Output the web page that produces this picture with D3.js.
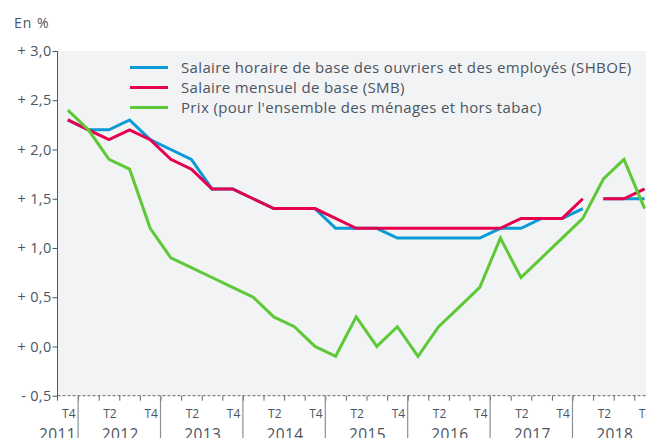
<!DOCTYPE html>
<html>
<head>
<meta charset="utf-8">
<script src="https://cdn.jsdelivr.net/npm/d3@7"></script>
<style>
  body { margin: 0; background: #fff; }
  svg { display: block; font-family: "Open Sans", sans-serif; }
</style>
</head>
<body>
<div></div>
<script>
const quarters = [
    "2011-T4",
    "2012-T1", "2012-T2", "2012-T3", "2012-T4",
    "2013-T1", "2013-T2", "2013-T3", "2013-T4",
    "2014-T1", "2014-T2", "2014-T3", "2014-T4",
    "2015-T1", "2015-T2", "2015-T3", "2015-T4",
    "2016-T1", "2016-T2", "2016-T3", "2016-T4",
    "2017-T1", "2017-T2", "2017-T3", "2017-T4",
    "2018-T1", "2018-T2", "2018-T3", "2018-T4"
];
const years = ["2011", "2012", "2013", "2014", "2015", "2016", "2017", "2018"];
const shboe = [2.3, 2.2, 2.2, 2.3, 2.1, 2.0, 1.9, 1.6, 1.6, 1.5, 1.4, 1.4, 1.4, 1.2, 1.2, 1.2, 1.1, 1.1, 1.1, 1.1, 1.1, 1.2, 1.2, 1.3, 1.3, 1.4, 1.5, 1.5, 1.5];
const smb = [2.3, 2.2, 2.1, 2.2, 2.1, 1.9, 1.8, 1.6, 1.6, 1.5, 1.4, 1.4, 1.4, 1.3, 1.2, 1.2, 1.2, 1.2, 1.2, 1.2, 1.2, 1.2, 1.3, 1.3, 1.3, 1.5, 1.5, 1.5, 1.6];
const prix = [2.4, 2.2, 1.9, 1.8, 1.2, 0.9, 0.8, 0.7, 0.6, 0.5, 0.3, 0.2, 0.0, -0.1, 0.3, 0.0, 0.2, -0.1, 0.2, 0.4, 0.6, 1.1, 0.7, 0.9, 1.1, 1.3, 1.7, 1.9, 1.4];
// wage series restart after a change of base
const wageBreak = "2018-T2";
const yTicks = [-0.5, 0, 0.5, 1, 1.5, 2, 2.5, 3];
const yTickLabels = ["- 0,5", "+ 0,0", "+ 0,5", "+ 1,0", "+ 1,5", "+ 2,0", "+ 2,5", "+ 3,0"];
const seriesNames = [
    "Salaire horaire de base des ouvriers et des employés (SHBOE)",
    "Salaire mensuel de base (SMB)",
    "Prix (pour l'ensemble des ménages et hors tabac)"
];

const width = 646, height = 438;
const textColor = "#4a5562";
const colors = ["#0a9ad6", "#e6004e", "#5dc936"];

const svg = d3.select("div").append("svg").attr("width", width).attr("height", height);

const xScale = d3.scaleLinear().domain([-0.5, quarters.length]).range([57.5, 57.5 + (quarters.length + 0.5) * 20.6]);
const yScale = d3.scaleLinear().domain([-0.5, 3]).range([395.7, 51]);

// plot background
svg.append("rect")
    .attr("x", xScale(-0.5)).attr("y", yScale(3))
    .attr("width", width - xScale(-0.5)).attr("height", yScale(-0.5) - yScale(3))
    .attr("fill", "#f2f3f5");

svg.append("text")
    .attr("x", 14).attr("y", 28)
    .attr("fill", textColor).attr("font-size", 14).attr("letter-spacing", 1)
    .text("En %");

// y axis
const yAxis = d3.axisLeft(yScale).tickValues(yTicks).tickSize(5).tickSizeOuter(0)
    .tickFormat((d, i) => yTickLabels[i]);
const gy = svg.append("g").attr("transform", `translate(${xScale(-0.5)},0)`).call(yAxis);
gy.select(".domain").attr("stroke", "#555").attr("d", `M0,${yScale(3)}V${yScale(-0.5) + 5}`);
gy.selectAll(".tick line").attr("stroke", "#555");
gy.selectAll(".tick text").attr("x", -6).attr("fill", textColor).attr("font-size", 14.5)
    .attr("letter-spacing", 0.3).attr("font-family", "Open Sans, sans-serif");

// dashed baseline
svg.append("line")
    .attr("x1", xScale(-0.5)).attr("x2", width)
    .attr("y1", yScale(-0.5)).attr("y2", yScale(-0.5))
    .attr("stroke", "#666").attr("stroke-dasharray", "3,2");

// x axis: quarter boundaries + year separators
const qIdx = quarters.map((q, i) => i);
const xAxis = d3.axisBottom(xScale).tickValues(qIdx.map(i => i + 0.5)).tickSize(5).tickSizeOuter(0).tickFormat("");
const gx = svg.append("g").attr("transform", `translate(0,${yScale(-0.5)})`).call(xAxis);
gx.select(".domain").remove();
gx.selectAll(".tick line").attr("stroke", "#666");

const yearStart = qIdx.filter(i => quarters[i].endsWith("T4")).map(i => i + 0.5);
svg.append("g").selectAll("line").data(yearStart).enter().append("line")
    .attr("x1", d => xScale(d)).attr("x2", d => xScale(d))
    .attr("y1", yScale(-0.5)).attr("y2", height)
    .attr("stroke", "#8a8f96").attr("stroke-width", 1.2);

svg.append("g").selectAll("text")
    .data(qIdx.filter(i => quarters[i].endsWith("T2") || quarters[i].endsWith("T4")))
    .enter().append("text")
    .attr("x", d => xScale(d) + 1).attr("y", 418)
    .attr("text-anchor", "middle").attr("fill", textColor).attr("font-size", 12)
    .text(d => quarters[d].slice(5));

svg.append("g").selectAll("text").data(years).enter().append("text")
    .attr("x", (d, i) => i === 0 ? xScale(0.5) - 2 : xScale(i * 4 - 1.5) + 1)
    .attr("y", 439.5)
    .attr("text-anchor", (d, i) => i === 0 ? "end" : "middle")
    .attr("fill", textColor).attr("font-size", 15.5).attr("letter-spacing", 0.4)
    .text(d => d);

// lines
const line = d3.line().x(d => xScale(d[0])).y(d => yScale(d[1]));
const cut = quarters.indexOf(wageBreak);
const segments = (values, split) => {
    const pts = values.map((v, i) => [i, v]);
    return split ? [pts.slice(0, cut), pts.slice(cut)] : [pts];
};
[[shboe, true], [smb, true], [prix, false]].forEach(([values, split], k) => {
    svg.append("g").selectAll("path").data(segments(values, split)).enter().append("path")
        .attr("d", line)
        .attr("fill", "none")
        .attr("stroke", colors[k])
        .attr("stroke-width", 3)
        .attr("stroke-linejoin", "miter");
});

// legend
const legend = svg.append("g").selectAll("g").data(seriesNames).enter().append("g")
    .attr("transform", (d, i) => `translate(130,${67.5 + i * 20})`);
legend.append("line").attr("x1", 0).attr("x2", 38)
    .attr("stroke", (d, i) => colors[i]).attr("stroke-width", 3);
legend.append("text").attr("x", 51).attr("y", 5)
    .attr("fill", textColor).attr("font-size", 15).attr("letter-spacing", 0.35)
    .text(d => d);
</script>
</body>
</html>
